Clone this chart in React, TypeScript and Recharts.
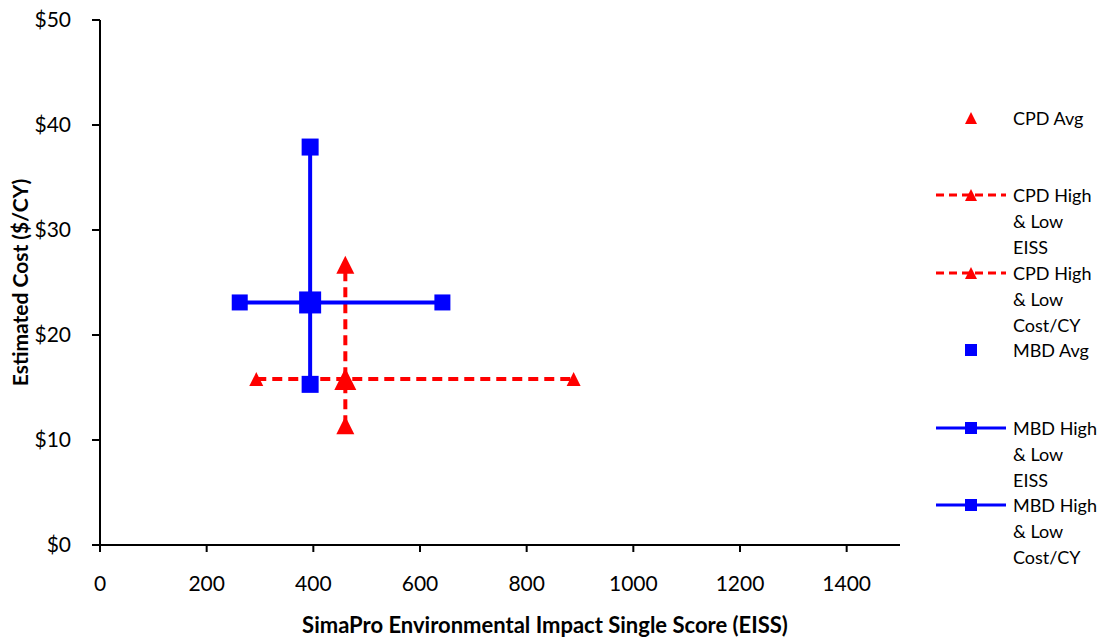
import { ScatterChart, Scatter, XAxis, YAxis, Legend } from 'recharts'

const X_TICKS = [0, 200, 400, 600, 800, 1000, 1200, 1400]
const Y_TICKS = [0, 10, 20, 30, 40, 50]

// [EISS, cost]
const CPD_AVG = [460, 15.8]
const CPD_EISS_LOW_HIGH = [293, 888]
const CPD_COST_LOW_HIGH = [11.4, 26.7]
const MBD_AVG = [394, 23.1]
const MBD_EISS_LOW_HIGH = [262, 642]
const MBD_COST_LOW_HIGH = [15.3, 37.9]

const RED = '#ff0000'
const BLUE = '#0000ff'
const FONT = 'Lato, "Open Sans", sans-serif'

type Pt = { eiss: number; cost: number }

const SERIES = [
  {
    name: 'CPD Avg',
    data: [{ eiss: CPD_AVG[0], cost: CPD_AVG[1] }],
    color: RED, marker: 'tri', size: 22, line: false, dashed: false,
  },
  {
    name: 'CPD High & Low EISS',
    data: CPD_EISS_LOW_HIGH.map(v => ({ eiss: v, cost: CPD_AVG[1] })),
    color: RED, marker: 'tri', size: 14, line: true, dashed: true,
  },
  {
    name: 'CPD High & Low Cost/CY',
    data: CPD_COST_LOW_HIGH.map(v => ({ eiss: CPD_AVG[0], cost: v })),
    color: RED, marker: 'tri', size: 18, line: true, dashed: true,
  },
  {
    name: 'MBD Avg',
    data: [{ eiss: MBD_AVG[0], cost: MBD_AVG[1] }],
    color: BLUE, marker: 'sq', size: 22, line: false, dashed: false,
  },
  {
    name: 'MBD High & Low EISS',
    data: MBD_EISS_LOW_HIGH.map(v => ({ eiss: v, cost: MBD_AVG[1] })),
    color: BLUE, marker: 'sq', size: 16, line: true, dashed: false,
  },
  {
    name: 'MBD High & Low Cost/CY',
    data: MBD_COST_LOW_HIGH.map(v => ({ eiss: MBD_AVG[0], cost: v })),
    color: BLUE, marker: 'sq', size: 17, line: true, dashed: false,
  },
]

function Marker({ cx, cy, kind, size, color }: { cx: number; cy: number; kind: string; size: number; color: string }) {
  if (cx == null || cy == null) return null
  const h = size / 2
  if (kind === 'tri') {
    return <polygon points={`${cx},${cy - h} ${cx - h},${cy + h} ${cx + h},${cy + h}`} fill={color} />
  }
  return <rect x={cx - h} y={cy - h} width={size} height={size} fill={color} />
}

function LegendBox() {
  return (
    <div style={{ fontFamily: FONT, fontSize: 18, color: '#000' }}>
      {SERIES.map(s => (
        <div key={s.name} style={{ display: 'flex', height: 77.4 }}>
          <svg width={70} height={26} style={{ flex: 'none' }}>
            {s.line && (
              <line x1={0} y1={13} x2={70} y2={13} stroke={s.color} strokeWidth={3}
                strokeDasharray={s.dashed ? '8 5' : undefined} />
            )}
            <Marker cx={35} cy={13} kind={s.marker} size={12} color={s.color} />
          </svg>
          <div style={{ marginLeft: 7, lineHeight: '26px', whiteSpace: 'pre-line', textAlign: 'left' }}>
            {s.name.replace(' & Low ', '\n& Low\n')}
          </div>
        </div>
      ))}
    </div>
  )
}

export default function App() {
  return (
    <div style={{ position: 'absolute', left: 0, top: 0, width: 1115, height: 639, background: '#fff', fontFamily: FONT }}>
      {/* legend box width (179) is added to the right offset by recharts */}
      <ScatterChart width={1115} height={639} margin={{ top: 20, right: 36, bottom: 0, left: 0 }}>
        <XAxis
          type="number" dataKey="eiss" domain={[0, 1500]} ticks={X_TICKS} height={94}
          stroke="#000" strokeWidth={2} tickSize={7} tickMargin={24}
          tick={{ fill: '#000', fontSize: 21, fontFamily: FONT }}
          label={{
            value: 'SimaPro Environmental Impact Single Score (EISS)', position: 'insideBottom', offset: 6, dx: 45,
            style: { fontWeight: 700, fontSize: 22, fill: '#000', fontFamily: FONT },
          }}
        />
        <YAxis
          type="number" dataKey="cost" domain={[0, 50]} ticks={Y_TICKS} width={100}
          stroke="#000" strokeWidth={2} tickSize={8} tickMargin={21}
          tickFormatter={(v: number) => `$${v}`}
          tick={{ fill: '#000', fontSize: 21, fontFamily: FONT }}
          label={{
            value: 'Estimated Cost ($/CY)', angle: -90, position: 'insideLeft', offset: 21,
            style: { textAnchor: 'middle', fontWeight: 700, fontSize: 21, fill: '#000', fontFamily: FONT },
          }}
        />
        <Legend
          layout="vertical" verticalAlign="middle" align="right"
          content={() => <LegendBox />}
          wrapperStyle={{ left: 936, top: 105, width: 179 }}
        />
        {SERIES.map(s => (
          <Scatter
            key={s.name}
            name={s.name}
            data={s.data as Pt[]}
            fill={s.color}
            isAnimationActive={false}
            line={s.line ? { stroke: s.color, strokeWidth: 4, strokeDasharray: s.dashed ? '10 6' : undefined } : false}
            lineType="joint"
            shape={(p: any) => <Marker cx={p.cx} cy={p.cy} kind={s.marker} size={s.size} color={s.color} />}
          />
        ))}
      </ScatterChart>
    </div>
  )
}
